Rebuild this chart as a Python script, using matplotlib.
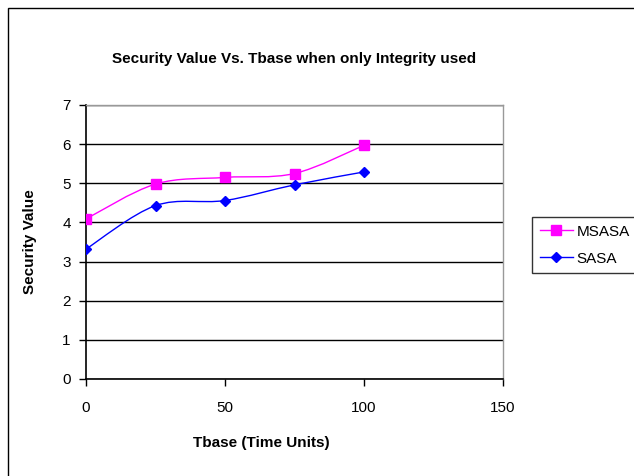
import matplotlib
matplotlib.use("Agg")
import matplotlib.pyplot as plt
from matplotlib.path import Path
from matplotlib.patches import PathPatch, Rectangle
from matplotlib.lines import Line2D

plt.rcParams['font.family'] = ['Liberation Sans', 'DejaVu Sans']

tbase = [0, 25, 50, 75, 100]
msasa = [4.09, 4.98, 5.15, 5.25, 5.97]
sasa = [3.32, 4.43, 4.56, 4.96, 5.29]
series_names = ["MSASA", "SASA"]
title = "Security Value Vs. Tbase when only Integrity used"
xlabel = "Tbase (Time Units)"
ylabel = "Security Value"
xticks = [0, 50, 100, 150]
yticks = [0, 1, 2, 3, 4, 5, 6, 7]

fig = plt.figure(figsize=(6.34, 4.76), dpi=100)
# outer chart border (left and top visible)
fig.add_artist(Rectangle((7.5 / 634, -0.5), 2.0, 1 - 7.5 / 476 + 0.5,
                         transform=fig.transFigure, fill=False,
                         edgecolor='black', linewidth=1.0))

ax = fig.add_axes([86 / 634, 1 - 379 / 476, 417 / 634, 274 / 476])


def smooth_path(xs, ys):
    pts = list(zip(xs, ys))
    n = len(pts)
    verts = [pts[0]]
    codes = [Path.MOVETO]
    for i in range(n - 1):
        p0 = pts[i - 1] if i > 0 else pts[i]
        p1 = pts[i]
        p2 = pts[i + 1]
        p3 = pts[i + 2] if i + 2 < n else pts[i + 1]
        c1 = (p1[0] + (p2[0] - p0[0]) / 6, p1[1] + (p2[1] - p0[1]) / 6)
        c2 = (p2[0] - (p3[0] - p1[0]) / 6, p2[1] - (p3[1] - p1[1]) / 6)
        verts += [c1, c2, p2]
        codes += [Path.CURVE4] * 3
    return Path(verts, codes)


colors = ['#FF00FF', '#0000FF']
markers = ['s', 'D']
msizes = [6.5, 5.5]
for ys, c, m, ms, name in zip([msasa, sasa], colors, markers, msizes, series_names):
    ax.add_patch(PathPatch(smooth_path(tbase, ys), facecolor='none',
                           edgecolor=c, linewidth=1.0, zorder=3))
    ax.plot(tbase, ys, linestyle='none', marker=m, markersize=ms,
            color=c, zorder=4)

ax.set_xlim(0, 150)
ax.set_ylim(0, 7)
ax.set_xticks(xticks)
ax.set_yticks(yticks)
ax.yaxis.grid(True, color='black', linewidth=1.0)
ax.set_axisbelow(True)
for s in ['top', 'right']:
    ax.spines[s].set_color('#999999')
    ax.spines[s].set_linewidth(1.0)
for s in ['left', 'bottom']:
    ax.spines[s].set_color('black')
    ax.spines[s].set_linewidth(1.2)
ax.tick_params(direction='out', length=5, width=1.0, labelsize=11, pad=6)
ax.tick_params(axis='x', pad=11)

ax.set_title(title, fontsize=11, fontweight='bold', pad=30)
ax.set_xlabel(xlabel, fontsize=11, fontweight='bold', labelpad=15)
ax.xaxis.label.set_x(0.42)
ax.set_ylabel(ylabel, fontsize=11, fontweight='bold', labelpad=18)

handles = [Line2D([], [], color=c, marker=m, markersize=ms, linewidth=1.0)
           for c, m, ms in zip(colors, markers, msizes)]
leg = fig.legend(handles, series_names, loc='upper left',
                 bbox_to_anchor=(532 / 634, 1 - 217 / 476),
                 frameon=True, fancybox=False, edgecolor='black',
                 fontsize=11, handlelength=2.2, borderpad=0.5,
                 labelspacing=0.85, handletextpad=0.2, borderaxespad=0)
leg.get_frame().set_linewidth(1.0)

fig.savefig("out.png", dpi=100)
